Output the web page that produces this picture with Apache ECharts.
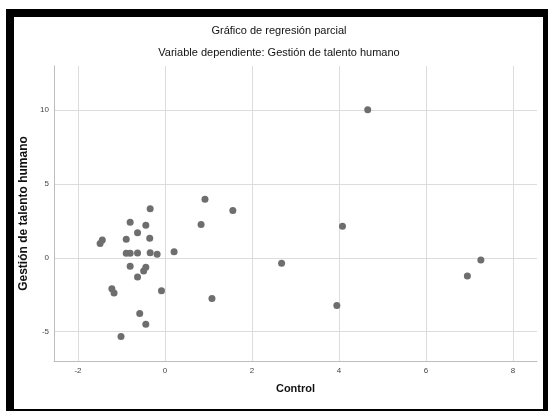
<!DOCTYPE html>
<html style="height: 100%">
<head>
    <meta charset="utf-8">
    <title>Gráfico de regresión parcial</title>
    <script src="https://cdn.jsdelivr.net/npm/echarts/dist/echarts.min.js"></script>
</head>
<body style="height: 100%; margin: 0; background: #fff">
    <div id="main" style="width: 548px; height: 411px"></div>
    <script type="text/javascript">
        var myChart = echarts.init(document.getElementById('main'));

        // residuos parciales: Control (x) vs Gestión de talento humano (y)
        var controlVals = [
            0.92, 1.56, -0.34, -0.80, -0.44, 0.83, -0.63, -0.89, -0.35,
            -1.44, -1.49, -0.89, -0.80, -0.63, -0.34, -0.18, 0.21,
            -0.80, -0.44, -0.49, -0.63, -1.22, -1.17, -0.08, 1.08,
            -0.58, -0.44, -1.01,
            4.66, 4.08, 2.68, 7.26, 6.95, 3.95
        ];
        var gestionVals = [
            3.97, 3.20, 3.33, 2.41, 2.21, 2.25, 1.69, 1.26, 1.33,
            1.20, 0.97, 0.30, 0.30, 0.32, 0.34, 0.23, 0.41,
            -0.58, -0.65, -0.90, -1.30, -2.11, -2.39, -2.23, -2.77,
            -3.78, -4.50, -5.34,
            10.03, 2.14, -0.38, -0.16, -1.24, -3.24
        ];

        var points = controlVals.map(function (x, i) {
            return [x, gestionVals[i]];
        });

        var gridLine = { color: '#dcdcdc', width: 1 };

        var option = {
            animation: false,
            backgroundColor: '#fff',
            textStyle: { fontFamily: 'Liberation Sans, Arial, sans-serif' },
            title: [
                {
                    text: 'Gráfico de regresión parcial',
                    left: 279,
                    top: 25,
                    textAlign: 'center',
                    padding: 0,
                    textStyle: { fontSize: 11, fontWeight: 'normal', color: '#111' }
                },
                {
                    text: 'Variable dependiente: Gestión de talento humano',
                    left: 279,
                    top: 47,
                    textAlign: 'center',
                    padding: 0,
                    textStyle: { fontSize: 11, fontWeight: 'normal', color: '#111' }
                }
            ],
            grid: {
                left: 54,
                right: 11,
                top: 66,
                bottom: 50
            },
            xAxis: {
                type: 'value',
                min: -2.55,
                max: 8.55,
                name: 'Control',
                nameLocation: 'middle',
                nameGap: 22,
                nameTextStyle: { fontSize: 11, fontWeight: 'bold', color: '#111' },
                axisLine: { show: true, onZero: false, lineStyle: { color: '#bdbdbd' } },
                axisTick: { show: false },
                axisLabel: {
                    fontSize: 8, color: '#444', margin: 6,
                    showMinLabel: false, showMaxLabel: false
                },
                splitLine: {
                    show: true, showMinLine: false, showMaxLine: false,
                    lineStyle: gridLine
                }
            },
            yAxis: {
                type: 'value',
                min: -7,
                max: 13,
                name: 'Gestión de talento humano',
                nameLocation: 'middle',
                nameGap: 24,
                nameTextStyle: { fontSize: 12, fontWeight: 'bold', color: '#111' },
                axisLine: { show: true, onZero: false, lineStyle: { color: '#bdbdbd' } },
                axisTick: { show: false },
                axisLabel: {
                    fontSize: 8, color: '#444', margin: 5,
                    showMinLabel: false, showMaxLabel: false
                },
                splitLine: {
                    show: true, showMinLine: false, showMaxLine: false,
                    lineStyle: gridLine
                }
            },
            graphic: [
                {
                    type: 'rect',
                    shape: { x: 10, y: 13, width: 537, height: 400 },
                    style: { fill: 'none', stroke: '#000', lineWidth: 8 },
                    z: 100
                }
            ],
            series: [
                {
                    type: 'scatter',
                    data: points,
                    symbolSize: 7,
                    itemStyle: { color: '#6e6e6e', opacity: 1 }
                }
            ]
        };

        myChart.setOption(option);
    </script>
</body>
</html>
